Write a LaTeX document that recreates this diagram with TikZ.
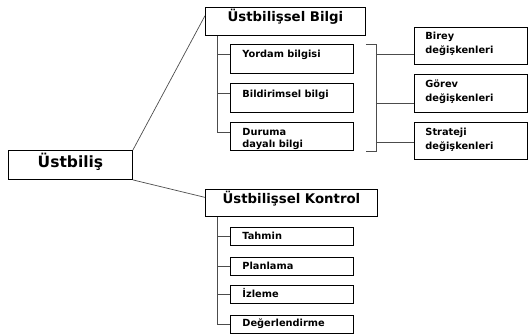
\documentclass[tikz,border=0pt]{standalone}
\usepackage{fontspec}
\setmainfont{DejaVu Sans}
\usetikzlibrary{positioning,calc}
\tikzstyle{anakutu}=[draw,line width=0.9pt,anchor=north west,inner sep=0pt,font=\fontsize{13.3}{16}\selectfont\bfseries]
\tikzstyle{altkutu}=[draw,line width=0.9pt,anchor=north west,inner xsep=12pt,inner ysep=0pt,text width=99pt,align=left,font=\fontsize{9.8}{12}\selectfont\bfseries]
\tikzstyle{degisken}=[altkutu,inner xsep=11pt,text width=91pt,font=\fontsize{9.8}{14}\selectfont\bfseries]
\tikzstyle{kucuk}=[altkutu,text height=12pt,text depth=6pt]
\tikzstyle{bag}=[line width=0.7pt,black!70]

\begin{document}
\begin{tikzpicture}[x=1pt,y=-1pt]
\useasboundingbox (0,0) rectangle (528,333);
\node[anakutu,minimum width=124pt,font=\fontsize{15.5}{18}\selectfont\bfseries,text height=17pt,text depth=12pt] (ustbilis) at (8,150) {Üstbiliş};
\node[anakutu,minimum width=160pt,text height=14pt,text depth=14pt] (bilgi) at (205,7) {Üstbilişsel Bilgi};
\node[anakutu,minimum width=172pt,text height=14pt,text depth=13pt] (kontrol) at (205,189) {Üstbilişsel Kontrol};

\node[altkutu,text height=13pt,text depth=16pt] (yordam) at (230,44) {Yordam bilgisi};
\node[altkutu,text height=14pt,text depth=15pt] (bildirimsel) at (230,83) {Bildirimsel bilgi};
\node[altkutu,text height=13pt,text depth=15pt] (duruma) at (230,122) {Duruma\\dayalı bilgi};

\node[degisken,text height=12pt,text depth=25pt] (birey) at (414,27) {Birey\\değişkenleri};
\node[degisken,text height=13pt,text depth=25pt] (gorev) at (414,74) {Görev\\değişkenleri};
\node[degisken,text height=13pt,text depth=24pt] (strateji) at (414,122) {Strateji\\değişkenleri};

\node[kucuk] (tahmin) at (230,227) {Tahmin};
\node[kucuk] (planlama) at (230,257) {Planlama};
\node[kucuk] (izleme) at (230,285) {İzleme};
\node[kucuk] (degerlendirme) at (230,314.5) {Değerlendirme};

\draw[bag] (ustbilis.north east) -- ($(bilgi.north west)!.3!(bilgi.south west)$);
\draw[bag] (ustbilis.south east) -- ($(kontrol.north west)!.3!(kontrol.south west)$);

\coordinate (govde) at ([xshift=12pt]bilgi.south west);
\foreach \k in {yordam,bildirimsel,duruma}
  \coordinate (\k-uc) at ($(\k.north west)!.35!(\k.south west)$);
\draw[bag] (govde) |- (duruma-uc);
\draw[bag] (yordam-uc) -- (govde |- yordam-uc);
\draw[bag] (bildirimsel-uc) -- (govde |- bildirimsel-uc);

\coordinate (govde2) at ([xshift=12pt]kontrol.south west);
\draw[bag] (govde2) |- (degerlendirme.west);
\foreach \k in {tahmin,planlama,izleme}
  \draw[bag] (\k.west) -- (govde2 |- \k.west);

\draw[bag] ([xshift=12pt]yordam.north east) -- ([xshift=22pt]yordam.north east) coordinate (parantez)
  -- ([xshift=22pt]duruma.south east) -- ([xshift=12pt]duruma.south east);
\coordinate (birey-uc) at ($(birey.north west)!.73!(birey.south west)$);
\coordinate (gorev-uc) at ($(gorev.north west)!.76!(gorev.south west)$);
\coordinate (strateji-uc) at ($(strateji.north west)!.54!(strateji.south west)$);
\foreach \k in {birey,gorev,strateji}
  \draw[bag] (parantez |- \k-uc) -- (\k-uc);
\end{tikzpicture}
\end{document}
